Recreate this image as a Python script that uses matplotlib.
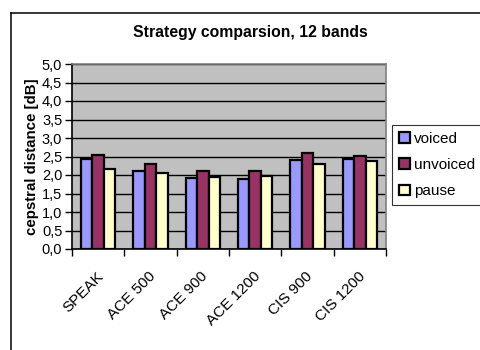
import matplotlib
matplotlib.use("Agg")
import matplotlib.pyplot as plt
import numpy as np
from matplotlib.lines import Line2D

plt.rcParams['font.family'] = ['Liberation Sans', 'DejaVu Sans']

categories = ["SPEAK", "ACE 500", "ACE 900", "ACE 1200", "CIS 900", "CIS 1200"]
series_names = ["voiced", "unvoiced", "pause"]
voiced = [2.43, 2.12, 1.92, 1.89, 2.41, 2.43]
unvoiced = [2.55, 2.30, 2.12, 2.10, 2.59, 2.52]
pause = [2.16, 2.06, 1.95, 1.98, 2.30, 2.39]
y_ticks = [0.0, 0.5, 1.0, 1.5, 2.0, 2.5, 3.0, 3.5, 4.0, 4.5, 5.0]

colors = ["#9999FF", "#993366", "#FFFFCC"]

W, H = 481, 350
fig = plt.figure(figsize=(W / 100, H / 100), dpi=100)
fig.patch.set_facecolor("white")

# outer chart frame (left and top edges visible)
fig.add_artist(Line2D([11 / W, 11 / W], [0, 1 - 13 / H], transform=fig.transFigure,
                      color="black", lw=1.1))
fig.add_artist(Line2D([11 / W, 1], [1 - 13 / H, 1 - 13 / H], transform=fig.transFigure,
                      color="black", lw=1.1))

ax = fig.add_axes([72 / W, 1 - 249 / H, (386 - 72) / W, (249 - 64) / H])
ax.set_facecolor("#C0C0C0")

n = len(categories)
x = np.arange(n)
bw = 0.22
for i, (vals, c, name) in enumerate(zip([voiced, unvoiced, pause], colors, series_names)):
    ax.bar(x + (i - 1) * bw, vals, width=bw, color=c, edgecolor="black",
           linewidth=1.6, label=name, zorder=3)

ax.set_xlim(-0.5, n - 0.5)
ax.set_ylim(0, 5)
ax.set_yticks(y_ticks)
ax.set_yticklabels([f"{v:.1f}".replace(".", ",") for v in y_ticks], fontsize=10.5)
ax.yaxis.grid(True, color="black", linewidth=1.0, zorder=1)
ax.set_axisbelow(True)

# category boundary ticks, labels centered on categories
ax.set_xticks(np.arange(n + 1) - 0.5)
ax.set_xticklabels([])
ax.tick_params(axis="x", which="major", length=5, width=1, direction="out")
ax.tick_params(axis="y", which="major", length=5, width=1, direction="out", pad=2)
for xi, lab in zip(x, categories):
    ax.text(xi - 0.04, -0.55, lab, rotation=45, ha="right", va="top",
            rotation_mode="anchor", fontsize=11, clip_on=False,
            transform=ax.transData)

for s in ["top", "right"]:
    ax.spines[s].set_color("#808080")
    ax.spines[s].set_linewidth(1.2)
for s in ["left", "bottom"]:
    ax.spines[s].set_color("black")
    ax.spines[s].set_linewidth(1.2)

ax.set_ylabel("cepstral distance [dB]", fontsize=10.8, fontweight="bold", labelpad=2)
fig.text(250 / W, 1 - 33 / H, "Strategy comparsion, 12 bands", ha="center", va="center",
         fontsize=11.3, fontweight="bold")

leg = ax.legend(loc="upper left", bbox_to_anchor=(392 / W, 1 - 125 / H),
                bbox_transform=fig.transFigure, fontsize=11, frameon=True,
                fancybox=False, edgecolor="black", borderpad=0.45,
                handlelength=0.7, handleheight=0.7, handletextpad=0.3,
                labelspacing=0.8, borderaxespad=0)
leg.get_frame().set_linewidth(0.8)

fig.savefig("out.png", dpi=100)
